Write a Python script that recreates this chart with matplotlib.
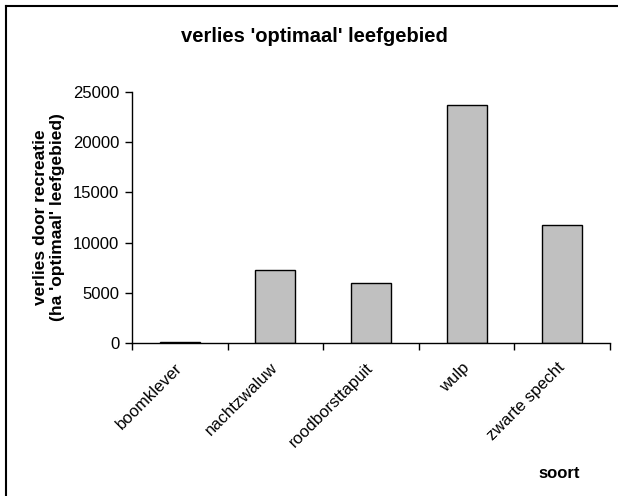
import numpy as np
from matplotlib import pyplot as plt
from matplotlib.lines import Line2D
from matplotlib.transforms import ScaledTranslation

# data
soorten = ['boomklever', 'nachtzwaluw', 'roodborsttapuit', 'wulp', 'zwarte specht']
verlies = [150, 7250, 5950, 23700, 11750]
y_ticks = [0, 5000, 10000, 15000, 20000, 25000]

plt.rcParams['font.family'] = ['Liberation Sans', 'DejaVu Sans']

fig = plt.figure(figsize=(6.18, 4.96), dpi=100)
ax = fig.add_axes([132/618, 1 - 343.3/496, (610 - 132)/618, (343.3 - 91.7)/496])

x = np.arange(len(soorten))
ax.bar(x, verlies, width=0.42, color='#c0c0c0', edgecolor='black', linewidth=1)

ax.set_xlim(-0.5, len(soorten) - 0.5)
ax.set_ylim(0, 25000)
ax.set_yticks(y_ticks)
ax.set_yticklabels([str(v) for v in y_ticks], fontsize=12)

# labels in the middle, ticks on the category borders
ax.set_xticks(x)
ax.set_xticklabels(soorten, fontsize=12, rotation=45, ha='right', va='center',
                   rotation_mode='anchor')
shift = ScaledTranslation(-4/100, 2/100, fig.dpi_scale_trans)
for lbl in ax.get_xticklabels():
    lbl.set_transform(lbl.get_transform() + shift)
ax.set_xticks(np.arange(-0.5, len(soorten)), minor=True)
ax.tick_params(axis='x', which='major', length=0, pad=16)
ax.tick_params(axis='x', which='minor', length=5, direction='out', width=1)
ax.tick_params(axis='y', length=5, direction='out', width=1, pad=4)

for s in ['top', 'right']:
    ax.spines[s].set_visible(False)
for s in ['left', 'bottom']:
    ax.spines[s].set_linewidth(1)

ax.set_ylabel("verlies door recreatie\n(ha 'optimaal' leefgebied)", fontsize=12.5,
              fontweight='bold', labelpad=6, linespacing=1.15)

fig.text(314.5/618, 1 - 37/496, "verlies 'optimaal' leefgebied", fontsize=14.5,
         fontweight='bold', ha='center', va='center')
fig.text(559/618, 1 - 473/496, 'soort', fontsize=12, fontweight='bold',
         ha='center', va='center')

# chart area border (only left and top visible in the crop)
fig.add_artist(Line2D([6/618, 6/618], [0, 1 - 6/496], color='black', lw=1.5,
                      transform=fig.transFigure))
fig.add_artist(Line2D([6/618, 1], [1 - 6/496, 1 - 6/496], color='black', lw=1.5,
                      transform=fig.transFigure))

fig.savefig('out.png', dpi=100)
